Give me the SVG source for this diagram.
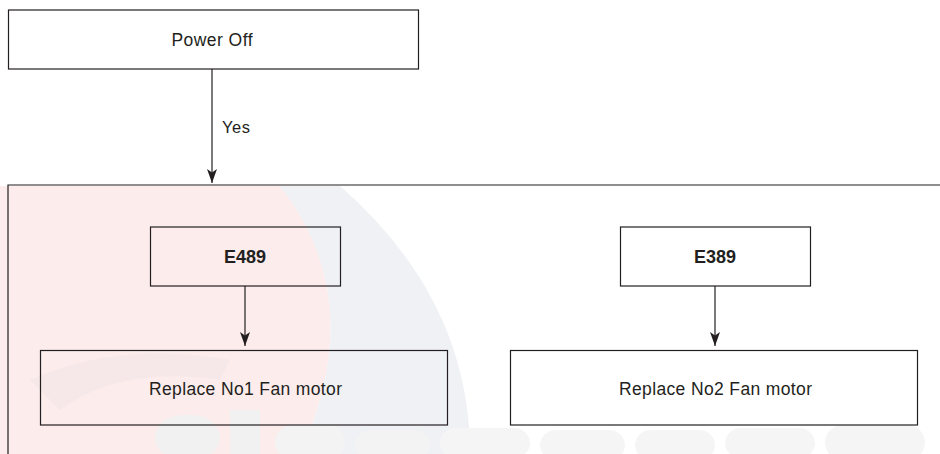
<svg xmlns="http://www.w3.org/2000/svg" width="940" height="454" viewBox="0 0 940 454">
<style>
  .box{fill:none;stroke:#231f20;stroke-width:1.2}
  .line{stroke:#231f20;stroke-width:1.2;fill:none}
  .t{font-family:"Liberation Sans",Arial,sans-serif;font-size:17.5px;fill:#231f20;text-anchor:middle}
  .b{font-weight:bold;font-size:18px}
  .wm{stroke:none}
</style>
<defs>
  <marker id="ah" viewBox="0 0 14 10" refX="14" refY="5" markerWidth="14" markerHeight="10" markerUnits="userSpaceOnUse" orient="auto">
    <path d="M0,0 L3.5,5 L0,10 L14,5 Z" fill="#231f20"/>
  </marker>
</defs>
<rect width="940" height="454" fill="#ffffff"/>
<g id="watermark">
  <path class="wm" d="M0,186 L280,186 Q 370 300 300 454 L 0 454 Z" fill="#fcecec"/>
  <path class="wm" d="M280,186 Q 370 300 300 454 L 470 454 Q 470 300 340 186 Z" fill="#f0f1f5"/>
  <path class="wm" d="M30,380 Q 120 340 230 360 L 220 380 Q 120 365 60 410 Z" fill="#f6e8e8"/>
  <rect class="wm" x="155" y="415" width="65" height="45" rx="28" fill="#f1f1f1"/>
  <rect class="wm" x="230" y="410" width="30" height="50" fill="#f1f1f1"/>
  <rect class="wm" x="275" y="425" width="70" height="35" rx="18" fill="#f3f3f3"/>
  <rect class="wm" x="355" y="430" width="75" height="30" rx="16" fill="#f3f3f3"/>
  <rect class="wm" x="440" y="428" width="90" height="30" rx="16" fill="#f5f5f5"/>
  <rect class="wm" x="540" y="430" width="85" height="30" rx="16" fill="#f5f5f5"/>
  <rect class="wm" x="635" y="430" width="80" height="30" rx="16" fill="#f5f5f5"/>
  <rect class="wm" x="725" y="428" width="90" height="30" rx="16" fill="#f5f5f5"/>
  <rect class="wm" x="825" y="425" width="100" height="35" rx="18" fill="#f5f5f5"/>
</g>
<g id="container">
  <path class="line" d="M8,454 L8,185 L940,185"/>
</g>
<g id="connectors">
  <line class="line" x1="212" y1="69" x2="212" y2="183" marker-end="url(#ah)"/>
  <text class="t" x="222" y="133" textLength="28" style="text-anchor:start;font-size:16.5px">Yes</text>
  <line class="line" x1="245" y1="286" x2="245" y2="346" marker-end="url(#ah)"/>
  <line class="line" x1="715" y1="286" x2="715" y2="346" marker-end="url(#ah)"/>
</g>
<g id="power-off">
  <rect class="box" x="8.5" y="10" width="410" height="59" fill="#fff"/>
  <text class="t" x="212" y="46" textLength="81">Power Off</text>
</g>
<g id="e489">
  <rect class="box" x="150.5" y="227" width="190" height="59"/>
  <text class="t b" x="245" y="263">E489</text>
</g>
<g id="e389">
  <rect class="box" x="620.5" y="227" width="190" height="59"/>
  <text class="t b" x="715" y="263">E389</text>
</g>
<g id="replace-no1">
  <rect class="box" x="40.5" y="350.5" width="407" height="74.5"/>
  <text class="t" x="245.5" y="395" textLength="193">Replace No1 Fan motor</text>
</g>
<g id="replace-no2">
  <rect class="box" x="510.5" y="350.5" width="407" height="74.5"/>
  <text class="t" x="715.5" y="395" textLength="193">Replace No2 Fan motor</text>
</g>
</svg>
